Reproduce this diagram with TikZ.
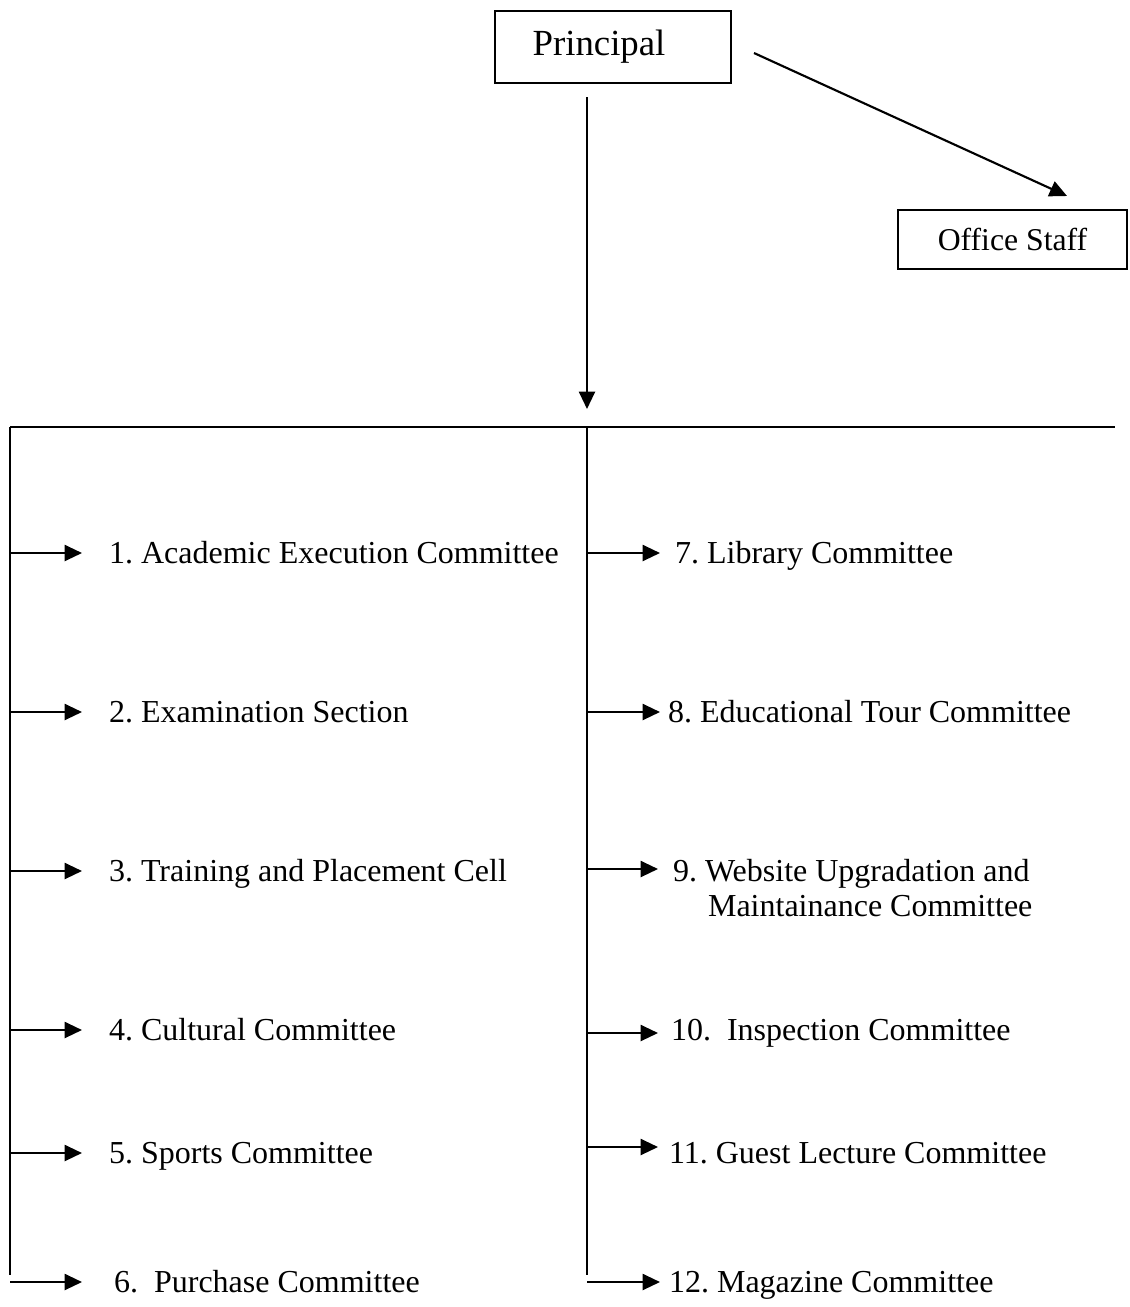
\documentclass[tikz,border=0pt]{standalone}
\usepackage{fontspec}
\setmainfont{Liberation Serif}
\usetikzlibrary{arrows.meta}
\frenchspacing
\begin{document}
\begin{tikzpicture}[x=0.75pt,y=-0.75pt,
  line width=1.6pt,
  arr/.style={-{Triangle[length=13pt,width=12pt]}},
  box/.style={draw,line width=1.6pt,inner sep=0pt},
  lbl/.style={inner sep=0pt,anchor=base west,font=\fontsize{24}{26.3}\selectfont},
]
\fill[white] (0,0) rectangle (1129,1307);
\useasboundingbox (0,0) rectangle (1129,1307);

% top boxes
\node[box,minimum width=177pt,minimum height=54pt,
      font=\fontsize{27.6}{32}\selectfont] (principal) at (613,47)
      {\hspace*{-21pt}Principal};
\node[box,minimum width=171.75pt,minimum height=44.25pt,
      font=\fontsize{23.8}{28}\selectfont] (office) at (1012.5,239.5) {Office Staff};

\coordinate (pdiag) at (754,53);
\coordinate (odiag) at (1067,196);
\draw[arr] (pdiag) -- (odiag);

\coordinate (pdown) at (587,97);
\coordinate (busin) at (587,409);
\draw[arr] (pdown) -- (busin);

% bus
\coordinate (busL) at (10,427);
\coordinate (busM) at (587,427);
\coordinate (busR) at (1115,427);
\coordinate (leftEnd) at (10,1275);
\coordinate (rightEnd) at (587,1275);
\draw (busL) -- (busR);
\draw (busL) -- (leftEnd);
\draw (busM) -- (rightEnd);

% left column
\node[lbl] (t1) at (108,563) {1. Academic Execution Committee};
\node[lbl] (t2) at (108,722) {2. Examination Section};
\node[lbl] (t3) at (108,881) {3. Training and Placement Cell};
\node[lbl] (t4) at (108,1040) {4. Cultural Committee};
\node[lbl] (t5) at (108,1163) {5. Sports Committee};
\node[lbl] (t6) at (113,1292) {6.\ \ Purchase Committee};

\coordinate (l1) at (10,553);
\coordinate (l2) at (10,712);
\coordinate (l3) at (10,871);
\coordinate (l4) at (10,1030);
\coordinate (l5) at (10,1153);
\coordinate (l6) at (10,1282);
\foreach \i in {1,...,5}{\draw[arr,shorten >=19.5pt] (l\i) -- (l\i -| t\i.west);}
\draw[arr,shorten >=23.25pt] (l6) -- (l6 -| t6.west);

% right column
\node[lbl] (t7) at (674,563) {7. Library Committee};
\node[lbl] (t8) at (667,722) {8. Educational Tour Committee};
\node[lbl] (t9) at (672,881) {\begin{tabular}[t]{@{}l@{}}9. Website Upgradation and\\\hspace*{26.25pt}Maintainance Committee\end{tabular}};
\node[lbl] (t10) at (670,1040) {10.\ \ Inspection Committee};
\node[lbl] (t11) at (668,1163) {11. Guest Lecture Committee};
\node[lbl] (t12) at (668,1292) {12. Magazine Committee};

\coordinate (r7) at (587,553);
\coordinate (r8) at (587,712);
\coordinate (r9) at (587,869);
\coordinate (r10) at (587,1033);
\coordinate (r11) at (587,1147);
\coordinate (r12) at (587,1282);
\draw[arr,shorten >=10.5pt] (r7) -- (r7 -| t7.west);
\draw[arr,shorten >=5.25pt] (r8) -- (r8 -| t8.west);
\draw[arr,shorten >=10.5pt] (r9) -- (r9 -| t9.west);
\draw[arr,shorten >=9pt] (r10) -- (r10 -| t10.west);
\draw[arr,shorten >=7.5pt] (r11) -- (r11 -| t11.west);
\draw[arr,shorten >=6pt] (r12) -- (r12 -| t12.west);
\end{tikzpicture}
\end{document}
